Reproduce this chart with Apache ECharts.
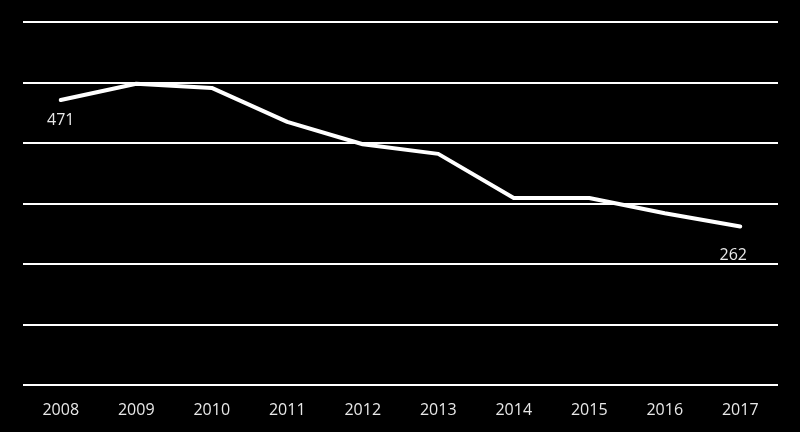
<!DOCTYPE html>
<html><head><meta charset="utf-8">
<script src="https://cdn.jsdelivr.net/npm/echarts@6/dist/echarts.min.js"></script>
<style>html,body{margin:0;padding:0;background:#000;}#c{width:800px;height:432px;}</style>
</head><body><div id="c"></div>
<script>
const years = ['2008','2009','2010','2011','2012','2013','2014','2015','2016','2017'];
const values = [471, 498, 491, 435, 398, 382, 309, 309, 284, 262];
const labelled = [0, 9];

const chart = echarts.init(document.getElementById('c'));
chart.setOption({
  backgroundColor: '#000',
  animation: false,
  grid: { left: 23, right: 22, top: 22, bottom: 47 },
  xAxis: {
    type: 'category', data: years, boundaryGap: true,
    axisLine: { show: false }, axisTick: { show: false },
    axisLabel: { color: '#e8e8e8', fontSize: 16, fontFamily: 'Open Sans', margin: 17 }
  },
  yAxis: {
    type: 'value', min: 0, max: 600, interval: 100,
    axisLabel: { show: false }, axisLine: { show: false }, axisTick: { show: false },
    splitLine: { lineStyle: { color: '#fff', width: 2 } }
  },
  series: [{
    type: 'line',
    data: values.map((v, i) => i === 9 ? { value: v, label: { offset: [-7, 9] } } : v),
    showSymbol: true, symbol: 'circle', symbolSize: 2,
    itemStyle: { color: '#fff' },
    lineStyle: { color: '#fff', width: 4, cap: 'round', join: 'round' },
    label: {
      show: true, position: 'bottom', distance: 11, color: '#e8e8e8', fontSize: 16, fontFamily: 'Open Sans',
      formatter: p => labelled.includes(p.dataIndex) ? String(p.value) : ''
    },
    z: 5
  }]
});
</script></body></html>
